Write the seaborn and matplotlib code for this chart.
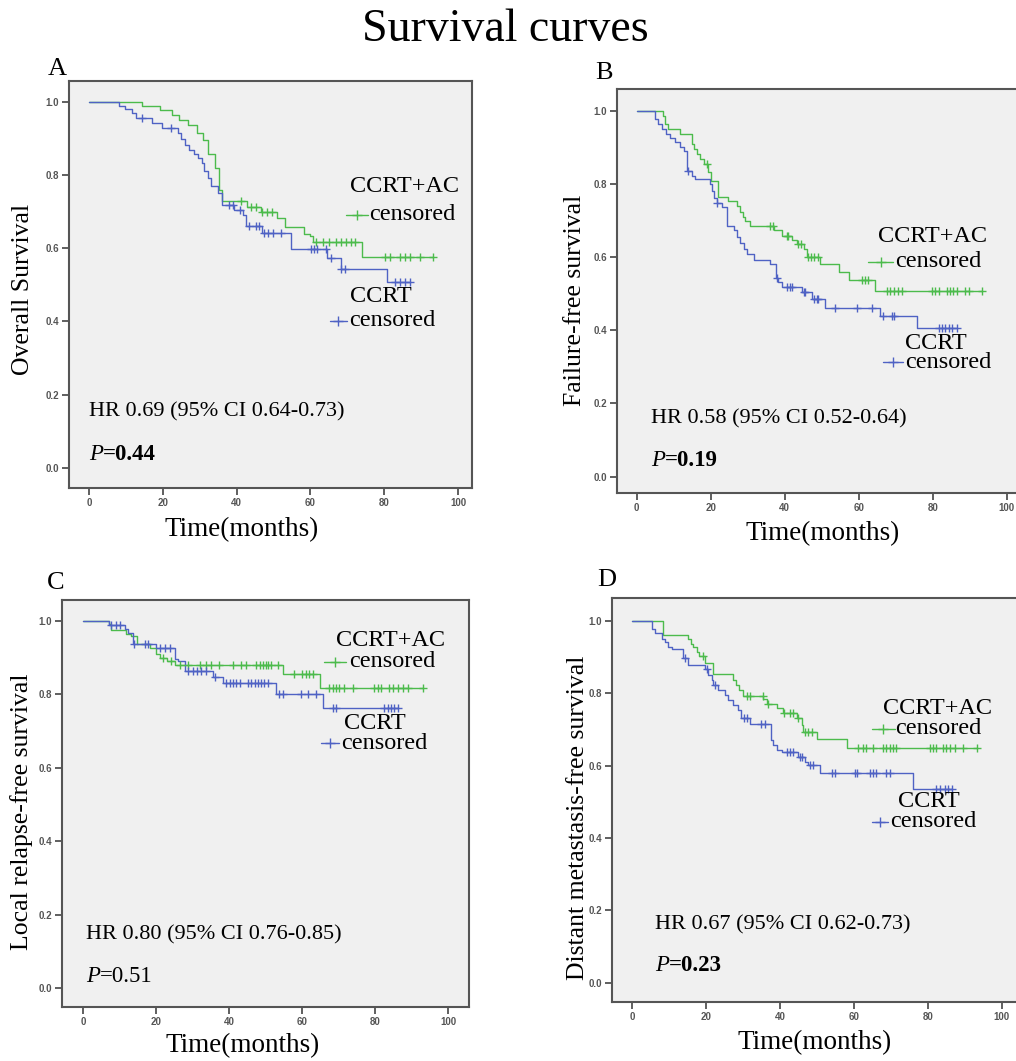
import numpy as np
import matplotlib
matplotlib.use("Agg")
import matplotlib.pyplot as plt
import seaborn as sns

# ---- data (time in months, survival) ----
# Panel A: overall survival
a_ac_t = [0, 14.3, 19.2, 22.4, 24.5, 26.9, 29.2, 31, 32.3, 34.1, 35.2, 36, 42.9, 46.5, 51, 53, 58.2, 59.8, 60.8, 73.9]
a_ac_s = [1, .989, .978, .964, .951, .937, .914, .896, .858, .819, .76, .728, .714, .699, .682, .657, .639, .633, .617, .577]
a_ac_c = [41.1, 43.8, 45.2, 47, 48.2, 49.6, 61.5, 63.3, 65.1, 66.9, 68.2, 69.6, 70.9, 72, 80.2, 81.6, 84.3, 85.6, 87, 89.7, 93.3]
a_cc_t = [0, 8.2, 9.8, 11.6, 12.8, 17, 19.9, 24, 25, 26.1, 27.2, 28.6, 29.5, 30.7, 31.3, 32.2, 33.1, 35, 36.1, 39.4,
          41.7, 42.6, 46.8, 54.7, 64.5, 68.2, 80.7]
a_cc_s = [1, .989, .98, .969, .955, .942, .928, .914, .898, .883, .869, .858, .846, .832, .81, .791, .77, .751, .719, .705,
          .691, .661, .643, .597, .573, .544, .509]
a_cc_c = [14.3, 22.2, 38, 39, 40.8, 43.5, 45.3, 46, 47.5, 48.4, 49.8, 52, 60.1, 61, 61.9, 64.2, 65.6, 68.4, 69.3,
          83, 84.3, 85.7, 87.1]

# Panel B: failure-free survival
b_ac_t = [0, 7.1, 7.7, 8.6, 11.8, 14.9, 15.5, 16.3, 17.2, 18.1, 19.4, 20, 22.1, 24.8, 27.1, 28, 28.7, 29.3, 30.7, 37,
          39.2, 41.9, 43.3, 45.1, 46, 49.6, 54.8, 57.5, 64.5]
b_ac_s = [1, .986, .964, .95, .936, .909, .895, .882, .868, .856, .832, .807, .765, .755, .741, .723, .711, .70, .686, .673,
          .659, .647, .635, .623, .60, .58, .559, .538, .507]
b_ac_c = [19.0, 36.1, 36.8, 40.6, 41.0, 43.7, 44.5, 46.4, 47.1, 48.0, 48.9, 60.9, 61.8, 62.6, 67.6, 68.5, 69.6, 70.5,
          71.7, 79.8, 80.7, 81.6, 83.8, 84.7, 85.6, 86.5, 88.8, 89.7, 93.3]
b_cc_t = [0, 5.0, 5.9, 6.8, 8.0, 9.1, 10.4, 11.6, 12.7, 13.7, 14.9, 15.8, 19.9, 20.3, 20.9, 21.7, 23.0, 24.5, 26.2, 27.1,
          28, 28.9, 29.8, 31.6, 36.1, 37.7, 38.3, 39.2, 44.6, 47.3, 50.9, 65.8, 75.7]
b_cc_s = [1, .977, .964, .95, .938, .927, .914, .90, .891, .836, .823, .814, .80, .782, .762, .747, .736, .686, .673, .655,
          .638, .623, .609, .593, .582, .544, .532, .518, .505, .486, .462, .438, .407]
b_cc_c = [14.0, 21.8, 37.9, 40.6, 41.5, 41.9, 45.1, 45.5, 47.8, 48.7, 49.1, 53.6, 59.5, 63.6, 66.7, 68.9, 69.6,
          81.6, 82.5, 83.4, 84.3, 85.2, 86.5]

# Panel C: local relapse-free survival
c_ac_t = [0, 7.2, 7.8, 11.9, 13.3, 14.8, 18.3, 20.1, 21.0, 23.0, 25.1, 54.9, 64.9]
c_ac_s = [1, .991, .976, .965, .958, .938, .925, .911, .90, .891, .881, .855, .818]
c_ac_c = [21.9, 24.2, 26.5, 28.8, 32.0, 33.8, 35.2, 37.4, 41.1, 43.4, 44.7, 47.5, 48.4, 49.3, 50.0, 50.6, 51.5, 53.4,
          57.9, 60.1, 61.1, 61.8, 62.9, 67.5, 68.4, 69.3, 70.2, 71.6, 73.9, 79.8, 80.7, 81.6, 83.9, 84.8, 86.2, 87.5,
          88.9, 93.0]
c_cc_t = [0, 7.2, 11.5, 12.4, 13.8, 20.1, 25.1, 26.0, 27.9, 35.6, 38.3, 52.9, 65.7]
c_cc_s = [1, .99, .979, .968, .938, .926, .897, .891, .864, .847, .831, .80, .764]
c_cc_c = [7.8, 9.0, 10.1, 13.9, 16.9, 17.9, 21.0, 22.4, 23.8, 28.8, 30.2, 31.2, 32.4, 33.8, 36.1, 39.3, 40.2, 41.1,
          42.0, 42.9, 45.2, 46.1, 47.0, 47.9, 48.8, 49.7, 50.6, 53.8, 54.9, 59.7, 61.6, 63.8, 68.4, 69.3, 82.5, 83.4,
          84.3, 85.2, 86.2]

# Panel D: distant metastasis-free survival
d_ac_t = [0, 8.3, 15.2, 15.9, 16.6, 17.5, 18.2, 19.7, 22.0, 27.4, 28.1, 29.0, 29.9, 35.5, 36.4, 39.1, 40.7, 44.5,
          45.9, 46.3, 49.9, 58.0]
d_ac_s = [1, .961, .952, .938, .929, .915, .903, .883, .855, .837, .823, .809, .793, .786, .772, .759, .745, .731,
          .712, .694, .673, .648]
d_ac_c = [19.3, 31.0, 31.9, 35.3, 36.8, 41.1, 42.7, 43.6, 44.9, 46.8, 47.7, 48.6, 61.2, 62.5, 63.4, 65.2, 67.9, 68.8,
          69.7, 70.6, 71.5, 80.5, 81.4, 82.3, 84.1, 85.0, 85.9, 87.3, 89.5, 93.2]
d_cc_t = [0, 5.3, 6.2, 8.0, 8.9, 9.8, 10.7, 13.9, 15.2, 19.7, 20.6, 21.5, 22.0, 23.3, 25.1, 26.0, 27.4, 28.7, 29.6,
          31.9, 37.7, 38.2, 39.1, 40.5, 45.0, 46.8, 47.7, 50.8, 76.0]
d_cc_s = [1, .977, .966, .952, .943, .929, .922, .897, .878, .869, .851, .837, .823, .809, .795, .783, .768, .754, .731,
          .715, .671, .657, .645, .639, .625, .611, .602, .581, .537]
d_cc_c = [14.3, 20.2, 22.4, 30.3, 31.0, 35.0, 35.9, 41.8, 42.7, 43.4, 45.4, 45.9, 48.1, 49.0, 54.0, 54.9, 60.3, 60.7,
          64.3, 65.2, 66.1, 68.8, 69.7, 82.3, 83.2, 84.6, 85.5, 86.4]

ylabels = ["Overall Survival", "Failure-free survival", "Local relapse-free survival", "Distant metastasis-free survival"]
hr_texts = ["HR 0.69 (95% CI 0.64-0.73)", "HR 0.58 (95% CI 0.52-0.64)",
            "HR 0.80 (95% CI 0.76-0.85)", "HR 0.67 (95% CI 0.62-0.73)"]
p_values = ["=0.44", "=0.19", "=0.51", "=0.23"]
p_bold = [True, True, False, True]
letters = ["A", "B", "C", "D"]

GREEN = "#4cbb4c"
BLUE = "#4f62c4"

sns.set_style("white")
plt.rcParams["font.family"] = ["Liberation Serif", "DejaVu Serif"]
plt.rcParams["text.color"] = "black"

W, H = 1016, 1061
fig = plt.figure(figsize=(W / 100, H / 100), dpi=100)


def px_axes(l, r, t, b):
    return fig.add_axes([l / W, 1 - b / H, (r - l) / W, (b - t) / H])


# panel layout (pixels): left, right, top, bottom, xlim, ylim
panels = [
    dict(rect=(69, 472, 81, 488), xlim=(-5.4, 103.8), ylim=(-0.055, 1.057),
         groups=[(a_ac_t, a_ac_s, a_ac_c, GREEN), (a_cc_t, a_cc_s, a_cc_c, BLUE)],
         lab=[("CCRT+AC", (70.7, 0.768), (75.9, 0.691), (69.6, 75.6), GREEN),
              ("CCRT", (70.7, 0.467), (70.4, 0.402), (65.3, 69.9), BLUE)],
         hr=(0.0, 0.153), p=(0.0, 0.036), ylab=(23, 289), xlab=(242, 530), let=(57, 69)),
    dict(rect=(617, 1020, 89, 493), xlim=(-5.3, 103.6), ylim=(-0.045, 1.06),
         groups=[(b_ac_t, b_ac_s, b_ac_c, GREEN), (b_cc_t, b_cc_s, b_cc_c, BLUE)],
         lab=[("CCRT+AC", (65.3, 0.656), (69.9, 0.588), (62.6, 69.4), GREEN),
              ("CCRT", (72.6, 0.365), (72.6, 0.313), (66.6, 72.0), BLUE)],
         hr=(3.9, 0.157), p=(3.9, 0.043), ylab=(575, 300), xlab=(823, 534), let=(604, 73)),
    dict(rect=(62, 469, 600, 1007), xlim=(-5.7, 105.7), ylim=(-0.052, 1.057),
         groups=[(c_ac_t, c_ac_s, c_ac_c, GREEN), (c_cc_t, c_cc_s, c_cc_c, BLUE)],
         lab=[("CCRT+AC", (69.3, 0.948), (73.0, 0.889), (66.1, 72.0), GREEN),
              ("CCRT", (71.6, 0.721), (70.7, 0.667), (65.2, 70.2), BLUE)],
         hr=(0.8, 0.144), p=(0.8, 0.03), ylab=(22, 812), xlab=(243, 1046), let=(56, 583)),
    dict(rect=(612, 1020, 598, 1002), xlim=(-5.4, 104.9), ylim=(-0.053, 1.064),
         groups=[(d_ac_t, d_ac_s, d_ac_c, GREEN), (d_cc_t, d_cc_s, d_cc_c, BLUE)],
         lab=[("CCRT+AC", (67.9, 0.759), (71.1, 0.703), (64.8, 71.1), GREEN),
              ("CCRT", (72.0, 0.500), (69.7, 0.445), (64.8, 69.2), BLUE)],
         hr=(6.2, 0.16), p=(6.2, 0.049), ylab=(578, 818), xlab=(815, 1043), let=(607, 580)),
]

for i, pan in enumerate(panels):
    ax = px_axes(*pan["rect"])
    ax.set_facecolor("#f0f0f0")

    for t, s, cens, col in pan["groups"]:
        t = np.asarray(t, float)
        s = np.asarray(s, float)
        cens = np.asarray(cens, float)
        # extend the last step out to the last censored case
        t_full = np.append(t, cens.max())
        s_full = np.append(s, s[-1])
        sns.lineplot(x=t_full, y=s_full, drawstyle="steps-post", estimator=None, sort=False,
                     color=col, linewidth=1.0, ax=ax)
        cens_s = s[np.searchsorted(t, cens, side="right") - 1]
        sns.scatterplot(x=cens, y=cens_s, marker="+", color=col, s=40, linewidth=1.0, ax=ax, zorder=3)

    for name, name_xy, cens_xy, line_x, col in pan["lab"]:
        ax.text(name_xy[0], name_xy[1], name, fontsize=17.5, ha="left", va="center")
        ax.plot(line_x, [cens_xy[1], cens_xy[1]], color=col, lw=1.0)
        ax.plot([np.mean(line_x)], [cens_xy[1]], "+", color=col, ms=7, mew=1.0)
        ax.text(cens_xy[0], cens_xy[1], "censored", fontsize=17.5, ha="left", va="center")

    ax.text(pan["hr"][0], pan["hr"][1], hr_texts[i], fontsize=16, ha="left", va="center")
    ptxt = ax.text(pan["p"][0], pan["p"][1], "P", fontsize=16.5, style="italic", ha="left", va="center")
    ax.annotate(p_values[i], xy=(1, 0), xycoords=ptxt, va="bottom", ha="left", fontsize=16.5,
                fontweight="bold" if p_bold[i] else "normal")

    ax.set_xlim(*pan["xlim"])
    ax.set_ylim(*pan["ylim"])
    ax.set_xticks(np.arange(0, 101, 20))
    ax.set_yticks(np.arange(0, 1.01, 0.2))
    ax.set_yticklabels([f"{v:.1f}" for v in np.arange(0, 1.01, 0.2)])
    ax.tick_params(axis="both", direction="out", length=5, width=1.2, color="#444444",
                   labelsize=7, labelcolor="#555555", pad=2, bottom=True, left=True)
    for lab in ax.get_xticklabels() + ax.get_yticklabels():
        lab.set_fontfamily("Liberation Sans")
        lab.set_fontweight("bold")
    for sp in ax.spines.values():
        sp.set_color("#555555")
        sp.set_linewidth(1.5)
    ax.set_xlabel("")
    ax.set_ylabel("")

    fig.text(pan["ylab"][0] / W, 1 - pan["ylab"][1] / H, ylabels[i], rotation=90,
             fontsize=18.5, ha="center", va="center")
    fig.text(pan["xlab"][0] / W, 1 - pan["xlab"][1] / H, "Time(months)",
             fontsize=19.5, ha="center", va="center")
    fig.text(pan["let"][0] / W, 1 - pan["let"][1] / H, letters[i],
             fontsize=19, ha="center", va="center")

fig.text(505 / W, 1 - 30 / H, "Survival curves", fontsize=33, ha="center", va="center")

fig.savefig("out.png", dpi=100)
